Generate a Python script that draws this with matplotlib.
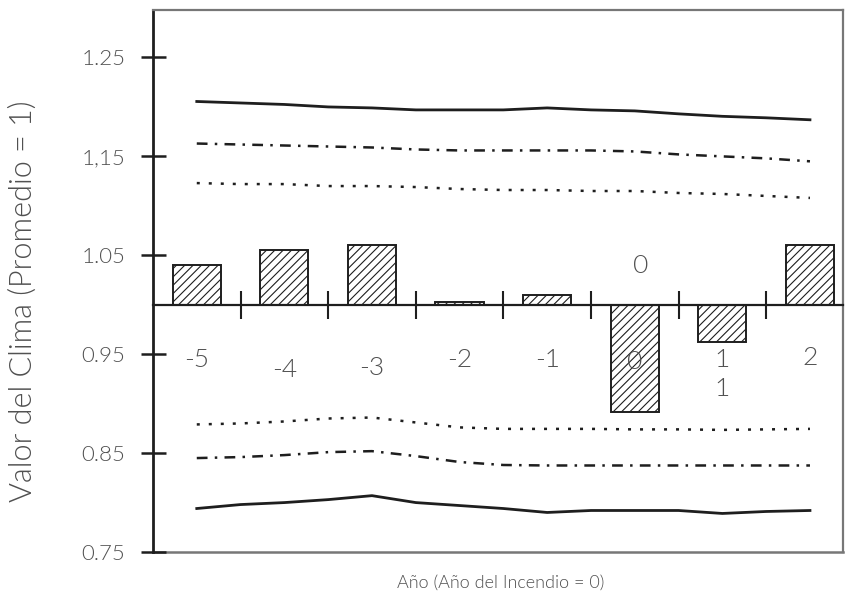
import matplotlib
matplotlib.use("Agg")
import matplotlib.pyplot as plt
import numpy as np

# ─── Datos ────────────────────────────────────────────────────────────────
years = [-5, -4, -3, -2, -1, 0, 1, 2]
bar_values = [1.040, 1.055, 1.060, 1.003, 1.010, 0.892, 0.962, 1.060]

# curvas leídas cada medio año
curve_x = [-5.0, -4.5, -4.0, -3.5, -3.0, -2.5, -2.0, -1.5, -1.0, -0.5,
           0.0, 0.5, 1.0, 1.5, 2.0]
upper_solid = [1.2055, 1.204, 1.2025, 1.200, 1.199, 1.197, 1.197, 1.197,
               1.199, 1.197, 1.196, 1.193, 1.1905, 1.189, 1.187]
upper_dashdot = [1.163, 1.162, 1.161, 1.160, 1.159, 1.157, 1.156, 1.156,
                 1.156, 1.156, 1.155, 1.152, 1.150, 1.148, 1.145]
upper_dotted = [1.123, 1.122, 1.122, 1.120, 1.120, 1.119, 1.117, 1.116,
                1.116, 1.115, 1.115, 1.113, 1.112, 1.110, 1.108]
lower_dotted = [0.879, 0.880, 0.882, 0.885, 0.886, 0.881, 0.876, 0.8745,
                0.8745, 0.8745, 0.874, 0.874, 0.8735, 0.874, 0.8745]
lower_dashdot = [0.845, 0.846, 0.848, 0.851, 0.852, 0.847, 0.841, 0.838,
                 0.8375, 0.8375, 0.8375, 0.8375, 0.8375, 0.8375, 0.8375]
lower_solid = [0.794, 0.798, 0.800, 0.803, 0.807, 0.800, 0.797, 0.794,
               0.790, 0.792, 0.792, 0.792, 0.789, 0.791, 0.792]

y_ticks = [0.75, 0.85, 0.95, 1.05, 1.15, 1.25]
y_tick_labels = ["0.75", "0.85", "0.95", "1.05", "1,15", "1.25"]
year_labels = ["-5", "-4", "-3", "-2", "-1", "0", "1", "2"]
label_y = [0.944, 0.934, 0.936, 0.944, 0.944, 0.942, 0.944, 0.946]

TXT = "#505050"
INK = "#1e1e1e"
FONT = ["Lato", "DejaVu Sans"]
W = 300
plt.rcParams["font.family"] = FONT
plt.rcParams["font.weight"] = W
plt.rcParams["hatch.linewidth"] = 0.8

fig = plt.figure(figsize=(8.48, 6.02), dpi=100)
ax = fig.add_axes([0.1804, 0.083, 0.814, 0.9004])

ax.set_xlim(-5.5, 2.38)
ax.set_ylim(0.75, 1.298)

# ─── Barras ───────────────────────────────────────────────────────────────
heights = np.array(bar_values) - 1.0
ax.bar(years, heights, bottom=1.0, width=0.55, facecolor="white",
       edgecolor=INK, linewidth=1.4, hatch="////", zorder=3)

# ─── Curvas ───────────────────────────────────────────────────────────────
dashdot = (0, (4.3, 2.9, 1.0, 2.9))
dotted = (0, (1.2, 3.6))
ax.plot(curve_x, upper_solid, color=INK, lw=2.0, zorder=2)
ax.plot(curve_x, upper_dashdot, color=INK, lw=1.8, ls=dashdot, zorder=2)
ax.plot(curve_x, upper_dotted, color=INK, lw=1.8, ls=dotted, zorder=2)
ax.plot(curve_x, lower_dotted, color=INK, lw=1.8, ls=dotted, zorder=2)
ax.plot(curve_x, lower_dashdot, color=INK, lw=1.8, ls=dashdot, zorder=2)
ax.plot(curve_x, lower_solid, color=INK, lw=2.0, zorder=2)

# ─── Ejes ─────────────────────────────────────────────────────────────────
ax.spines["bottom"].set_position(("data", 1.0))
ax.spines["bottom"].set_color(INK)
ax.spines["bottom"].set_linewidth(1.6)
ax.spines["bottom"].set_zorder(4)
ax.spines["left"].set_color(INK)
ax.spines["left"].set_linewidth(2.0)
for side in ("top", "right"):
    ax.spines[side].set_color("#777777")
    ax.spines[side].set_linewidth(1.6)
ax.axhline(0.75, color="#777777", lw=1.8, clip_on=False, zorder=1)

ax.set_xticks(np.array(years[:-1]) + 0.5)
ax.set_xticklabels([])
ax.tick_params(axis="x", direction="inout", length=20, width=1.5, color=INK)

ax.set_yticks(y_ticks)
ax.set_yticklabels(y_tick_labels, fontsize=16, color=TXT, fontweight=W)
ax.tick_params(axis="y", direction="inout", length=18, width=1.8,
               color=INK, pad=11)

for x, lab, ly in zip(years, year_labels, label_y):
    ax.text(x, ly, lab, ha="center", va="center", fontsize=19,
            color=TXT, fontweight=W, zorder=5)
ax.text(0.07, 1.0395, "0", ha="center", va="center", fontsize=19,
        color=TXT, fontweight=W)
ax.text(1.0, 0.915, "1", ha="center", va="center", fontsize=19,
        color=TXT, fontweight=W)

fig.text(0.028, 0.5, "Valor del Clima (Promedio = 1)", rotation=90,
         ha="center", va="center", fontsize=22, color=TXT, fontweight=W)
fig.text(0.59, 0.032, "Año (Año del Incendio = 0)", ha="center",
         va="center", fontsize=13, color=TXT, fontweight=W)

fig.savefig("out.png", dpi=100, facecolor="white")
